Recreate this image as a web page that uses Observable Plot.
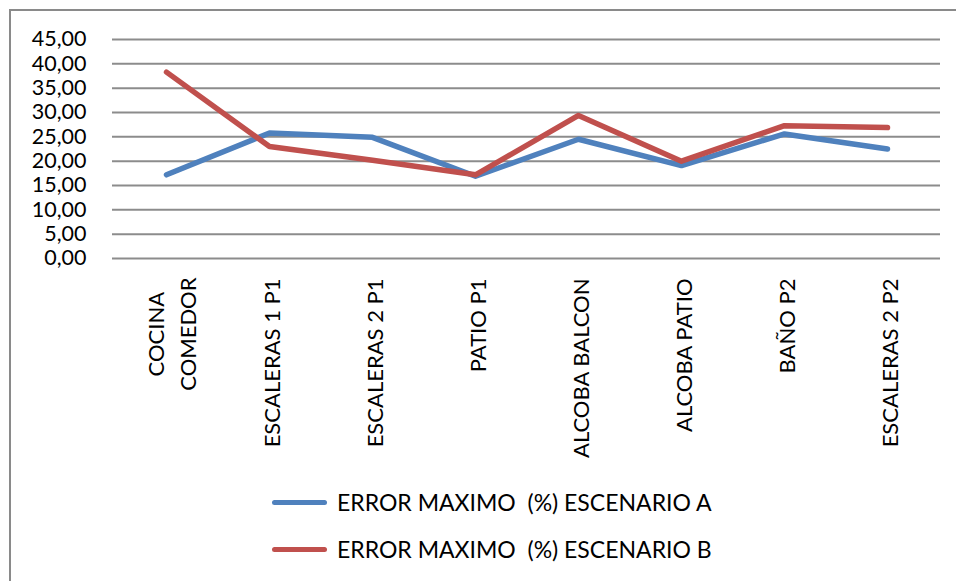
<!DOCTYPE html>
<html>
<head>
<meta charset="utf-8">
<script src="https://cdn.jsdelivr.net/npm/d3@7"></script>
<script src="https://cdn.jsdelivr.net/npm/@observablehq/plot@0.6"></script>
<style>
  html, body { margin: 0; padding: 0; background: #fff; overflow: hidden; }
  #wrap { position: relative; width: 956px; height: 581px; overflow: hidden; font-family: Lato, "Open Sans", sans-serif; }
  #frame { position: absolute; left: 9px; top: 9px; width: 2000px; height: 2000px; border-left: 2px solid #8a8a8a; border-top: 2px solid #8a8a8a; pointer-events: none; }
  #chart svg { display: block; }
  #legend { position: relative; height: 111px; }
  .item { position: absolute; left: 272px; height: 30px; display: flex; align-items: center; }
  .swatch { width: 55px; height: 5px; border-radius: 3px; margin-right: 10px; }
  .label { font-size: 23px; white-space: pre; color: #000; }
</style>
</head>
<body>
<div id="wrap">
  <div id="chart"></div>
  <div id="legend"></div>
  <div id="frame"></div>
</div>
<script>
const categories = ["COCINA\nCOMEDOR", "ESCALERAS 1 P1", "ESCALERAS 2 P1", "PATIO P1", "ALCOBA BALCON", "ALCOBA PATIO", "BAÑO P2", "ESCALERAS 2 P2"];
const seriesNames = ["ERROR MAXIMO  (%) ESCENARIO A", "ERROR MAXIMO  (%) ESCENARIO B"];
const escenarioA = [17.2, 25.8, 24.9, 16.9, 24.5, 19.1, 25.6, 22.5];
const escenarioB = [38.3, 23.0, 20.2, 17.2, 29.4, 20.0, 27.3, 26.9];
const yTicks = [0, 5, 10, 15, 20, 25, 30, 35, 40, 45];
const seriesColors = ["#4F81BD", "#C0504D"];

const data = [];
[escenarioA, escenarioB].forEach((vals, s) => {
  vals.forEach((v, i) => data.push({ series: seriesNames[s], cat: categories[i], value: v }));
});

const fmt = d => d.toFixed(2).replace(".", ",");
const FONT = "22px Lato";
const ctx = document.createElement("canvas").getContext("2d");
ctx.font = FONT;
const maxLineWidth = s => Math.max(...s.split("\n").map(l => ctx.measureText(l).width));

const single = categories.filter(c => !c.includes("\n"));
const multi = categories.filter(c => c.includes("\n"));

const chart = Plot.plot({
  width: 956,
  height: 470,
  marginLeft: 112,
  marginRight: 16,
  marginTop: 39,
  marginBottom: 212,
  style: { fontFamily: "Lato, sans-serif", fontSize: "22px", color: "#000", background: "transparent", overflow: "visible" },
  x: { type: "point", domain: categories, padding: 0.5, axis: null },
  y: { domain: [0, 45], axis: null },
  color: { domain: seriesNames, range: seriesColors },
  marks: [
    Plot.ruleY(yTicks, { stroke: "#8c8c8c", strokeWidth: 2 }),
    Plot.axisY({ ticks: yTicks, tickSize: 0, tickPadding: 26, tickFormat: fmt, fontSize: 21.5, fill: "#000", label: null }),
    Plot.lineY(data, { x: "cat", y: "value", stroke: "series", strokeWidth: 5.5, strokeLinecap: "round", strokeLinejoin: "round" }),
    Plot.text(single, { x: d => d, frameAnchor: "bottom", rotate: -90, textAnchor: "end", lineAnchor: "middle", dy: 20, dx: 3, fontSize: 22, fill: "#000" }),
    ...multi.map(c => Plot.text([c], { x: d => d, frameAnchor: "bottom", rotate: -90, textAnchor: "middle", lineAnchor: "middle", lineHeight: 1.45, dy: 19 + maxLineWidth(c) / 2, dx: 3, fontSize: 22, fill: "#000" }))
  ]
});
document.getElementById("chart").appendChild(chart);

const legend = document.getElementById("legend");
seriesNames.forEach((name, i) => {
  const item = document.createElement("div");
  item.className = "item";
  item.style.top = (17 + i * 47) + "px";
  const sw = document.createElement("div");
  sw.className = "swatch";
  sw.style.background = seriesColors[i];
  const lb = document.createElement("span");
  lb.className = "label";
  lb.textContent = name;
  item.appendChild(sw);
  item.appendChild(lb);
  legend.appendChild(item);
});
</script>
</body>
</html>
